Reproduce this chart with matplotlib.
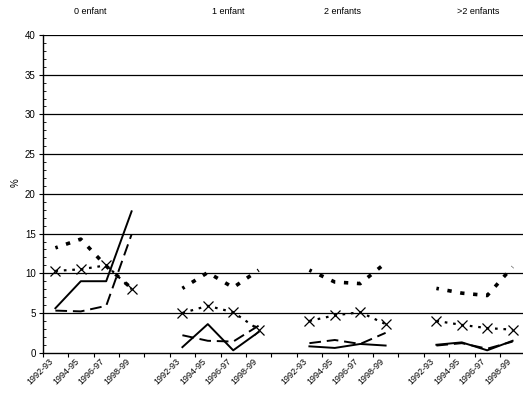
import numpy as np
import matplotlib
matplotlib.use("Agg")
import matplotlib.pyplot as plt
from matplotlib.ticker import MultipleLocator, FixedLocator, NullFormatter
from matplotlib.transforms import blended_transform_factory

plt.rcParams['font.family'] = ['Liberation Sans', 'DejaVu Sans']

groups = ["0 enfant", "1 enfant", "2 enfants", ">2 enfants"]
periods = ["1992-93", "1994-95", "1996-97", "1998-99"]

# values per group (4 periods each)
solid = [[5.6, 9.0, 9.0, 17.8],
         [0.7, 3.6, 0.3, 2.6],
         [0.8, 0.6, 1.1, 0.9],
         [1.0, 1.3, 0.3, 1.5]]
longdash = [[5.3, 5.2, 5.9, 14.9],
            [2.2, 1.5, 1.4, 3.4],
            [1.2, 1.6, 1.1, 2.5],
            [0.9, 1.2, 0.5, 1.4]]
shortdash = [[13.2, 14.3, 10.9, 8.1],
             [8.1, 10.1, 8.2, 10.4],
             [10.4, 8.9, 8.7, 11.3],
             [8.1, 7.5, 7.2, 10.8]]
xdotted = [[10.3, 10.5, 11.0, 8.0],
           [5.0, 5.9, 5.1, 2.9],
           [4.0, 4.7, 5.1, 3.6],
           [4.0, 3.5, 3.1, 2.9]]

fig = plt.figure(figsize=(5.23, 4.01), dpi=100)
ax = fig.add_axes([42.7/523, 1-352.7/401, 19*25.4/523, (352.7-35)/401])

n_per = len(periods)
for g in range(len(groups)):
    xs = np.arange(n_per) + g*(n_per+1)
    ax.plot(xs, solid[g], color='black', lw=1.4, ls='-', zorder=3)
    ax.plot(xs, longdash[g], color='black', lw=1.4, ls=(0, (6, 3)), zorder=3)
    ax.plot(xs, shortdash[g], color='black', lw=2.6, ls=(0.5, (1.2, 2.4)), zorder=3)
    ax.plot(xs, xdotted[g], color='black', lw=1.6, ls=(0, (1.2, 2.6)),
            marker='x', markersize=7, markeredgewidth=0.9, zorder=3)

ax.set_xlim(-0.5, 18.5)
ax.set_ylim(0, 40)
for v in range(5, 41, 5):
    ax.axhline(v, color='black', lw=0.9, zorder=1)

ax.spines['top'].set_visible(False)
ax.spines['right'].set_visible(False)
ax.spines['left'].set_linewidth(1.0)
ax.spines['bottom'].set_linewidth(1.0)

ax.yaxis.set_major_locator(MultipleLocator(5))
ax.yaxis.set_minor_locator(MultipleLocator(1))
ax.tick_params(axis='y', which='major', direction='out', length=3, width=0.8, labelsize=7, pad=2)
ax.tick_params(axis='y', which='minor', direction='in', length=2, width=0.6)

# x: major ticks at category boundaries, labels at category centers
ax.xaxis.set_major_locator(FixedLocator(np.arange(-0.5, 18.6, 1.0)))
ax.xaxis.set_major_formatter(NullFormatter())
label_pos = []
label_txt = []
for g in range(len(groups)):
    for i, p in enumerate(periods):
        label_pos.append(i + g*(n_per+1))
        label_txt.append(p)
ax.xaxis.set_minor_locator(FixedLocator(label_pos))
ax.set_xticklabels(label_txt, minor=True, rotation=45, ha='right', va='top', fontsize=6.5)
ax.tick_params(axis='x', which='major', direction='out', length=3, width=0.8)
ax.tick_params(axis='x', which='minor', length=0, pad=3)

trans = blended_transform_factory(ax.transData, fig.transFigure)
title_x = [1.36, 6.8, 11.3, 16.64]
for tx, name in zip(title_x, groups):
    ax.text(tx, 1-12/401, name, transform=trans, ha='center', va='center', fontsize=6.5)

fig.text(16/523, 1-183/401, "%", rotation=90, ha='center', va='center', fontsize=7)

fig.savefig("out.png", dpi=100)
